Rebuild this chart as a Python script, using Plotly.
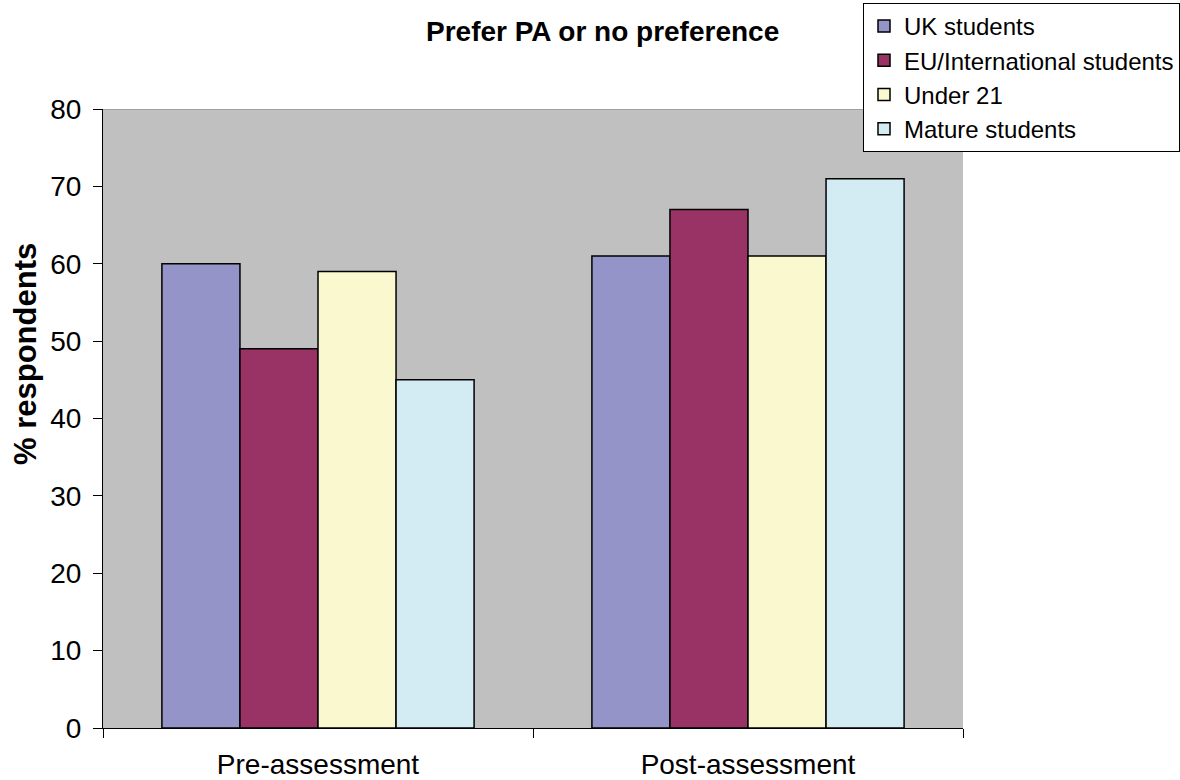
import plotly.graph_objects as go

# Survey results: share preferring peer assessment (PA) or with no preference
phases = ["Pre-assessment", "Post-assessment"]
uk_students = [60, 61]
eu_intl_students = [49, 67]
under_21 = [59, 61]
mature_students = [45, 71]

series = [
    ("UK students", uk_students, "#9494C8"),
    ("EU/International students", eu_intl_students, "#993366"),
    ("Under 21", under_21, "#FAF8CE"),
    ("Mature students", mature_students, "#D3ECF4"),
]

font_family = "Liberation Sans, Arial, sans-serif"

fig = go.Figure()
for name, values, color in series:
    fig.add_trace(go.Bar(
        x=phases,
        y=values,
        name=name,
        marker=dict(color=color, line=dict(color="#000000", width=1.5)),
    ))

fig.update_layout(
    width=1180,
    height=780,
    barmode="group",
    bargap=0.274,
    bargroupgap=0,
    paper_bgcolor="#FFFFFF",
    plot_bgcolor="#C0C0C0",
    margin=dict(l=103, r=217, t=109, b=52, autoexpand=False),
    font=dict(family=font_family, color="#000000"),
    showlegend=True,
    legend=dict(
        x=(863 - 103) / 860, y=1.1713, xanchor="left", yanchor="top",
        bgcolor="#FFFFFF", bordercolor="#000000", borderwidth=1,
        font=dict(size=24, family=font_family),
        itemwidth=30,
        tracegroupgap=0,
    ),
    xaxis=dict(
        showgrid=False,
        showline=True, linecolor="#000000", linewidth=1,
        ticks="outside", ticklen=9, tickcolor="#000000",
        tickson="boundaries",
        tickfont=dict(size=28),
        ticklabelstandoff=11,
    ),
    yaxis=dict(
        range=[0, 80],
        dtick=10,
        showgrid=False,
        zeroline=False,
        showline=True, linecolor="#000000", linewidth=1,
        ticks="outside", ticklen=9, tickcolor="#000000",
        tickfont=dict(size=28),
        ticklabelstandoff=6,
    ),
    annotations=[
        dict(
            text="<b>Prefer PA or no preference</b>",
            xref="paper", yref="paper",
            x=(602 - 103) / 860, y=(728 - 32) / 619,
            xanchor="center", yanchor="middle",
            showarrow=False, font=dict(size=28),
        ),
        dict(
            text="<b>% respondents</b>",
            xref="paper", yref="paper",
            x=(25 - 103) / 860, y=(728 - 354) / 619,
            xanchor="center", yanchor="middle",
            textangle=-90,
            showarrow=False, font=dict(size=31),
        ),
    ],
    shapes=[
        # upper border of the plotting area
        dict(type="line", xref="paper", yref="y", x0=0, x1=1, y0=80, y1=80,
             line=dict(color="#808080", width=1)),
    ],
)

fig.write_html("out.html")
